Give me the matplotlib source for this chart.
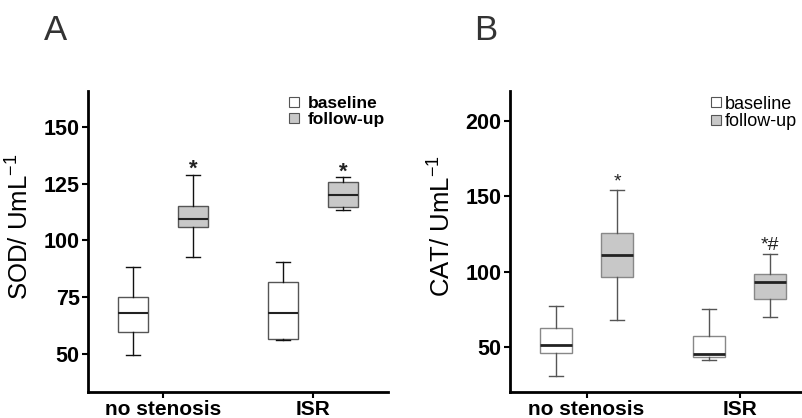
import numpy as np
import matplotlib
matplotlib.use('Agg')
import matplotlib.pyplot as plt
from matplotlib.lines import Line2D

plt.rcParams['font.family'] = ['Liberation Sans', 'DejaVu Sans']

groups = ['no stenosis', 'ISR']
series = ['baseline', 'follow-up']

# box summaries: [no stenosis, ISR] -> (whislo, q1, med, q3, whishi)
sod_baseline = [(49.2, 59.6, 67.7, 74.8, 88.4), (56.0, 56.2, 67.7, 81.4, 90.3)]
sod_followup = [(92.5, 105.8, 109.5, 115.3, 128.9), (113.4, 114.8, 120.2, 125.9, 127.8)]
sod_marks = ['*', '*']

cat_baseline = [(30.9, 46.0, 51.5, 62.6, 77.0), (41.1, 43.5, 45.5, 57.2, 75.2)]
cat_followup = [(68.1, 96.2, 111.3, 125.6, 154.0), (69.7, 81.8, 92.9, 98.7, 111.5)]
cat_marks = ['*', '*#']


def to_stats(rows):
    out = []
    for lo, q1, med, q3, hi in rows:
        out.append(dict(whislo=lo, q1=q1, med=med, q3=q3, whishi=hi, fliers=[]))
    return out


def panel(ax, base, follow, marks, ylabel, ylim, yticks, xlim, bold, style):
    pos = np.arange(1, len(groups) + 1)
    w = style['width']
    for stats, off, face in [(base, -0.2, 'white'), (follow, 0.2, '#c8c8c8')]:
        ax.bxp(to_stats(stats), positions=pos + off, widths=w, capwidths=0.09,
               patch_artist=True, showfliers=False, manage_ticks=False,
               boxprops=dict(facecolor=face, edgecolor=style['edge'], linewidth=1.0),
               whiskerprops=dict(color=style['whisk'], linewidth=1.0),
               capprops=dict(color=style['whisk'], linewidth=1.0),
               medianprops=dict(color='#222222', linewidth=style['medlw']))
    # significance marks above the follow-up whiskers
    for i, m in enumerate(marks):
        ax.annotate(m, (pos[i] + 0.2, follow[i][4]), xytext=(0, style['staroff']),
                    textcoords='offset points', ha='center', va='center',
                    fontsize=style['starsize'], fontweight='bold' if bold else 'normal',
                    color='#222222')
    ax.set_xlim(*xlim)
    ax.set_ylim(*ylim)
    ax.set_yticks(yticks)
    ax.set_xticks(pos)
    ax.set_xticklabels(groups)
    for s in ['top', 'right']:
        ax.spines[s].set_visible(False)
    for s in ['left', 'bottom']:
        ax.spines[s].set_linewidth(2.0)
    ax.tick_params(width=1.5, length=4, pad=2, labelsize=15.5)
    for lab in ax.get_xticklabels():
        lab.set_fontsize(15)
        lab.set_fontweight('bold')
    for lab in ax.get_yticklabels():
        lab.set_fontweight('bold')
    ax.set_ylabel(ylabel, fontsize=18.5)
    ax.yaxis.set_label_coords(style['ylx'], 0.55)

    handles = [Line2D([], [], ls='none', marker='s', markersize=7, markerfacecolor=f,
                      markeredgecolor='#555555', markeredgewidth=0.8)
               for f in ['white', '#c8c8c8']]
    ax.legend(handles, series, loc='upper right', bbox_to_anchor=style['legpos'],
              frameon=False, handlelength=0.7, handletextpad=style['legpad'],
              labelspacing=0.05, borderpad=0, borderaxespad=0,
              prop=dict(size=style['legsize'], weight='bold' if bold else 'normal'))


fig = plt.figure(figsize=(8.03, 4.18), dpi=100)
axA = fig.add_axes([88 / 803, 26 / 418, 300 / 803, 301 / 418])
axB = fig.add_axes([510 / 803, 26 / 418, 294 / 803, 301 / 418])

panel(axA, sod_baseline, sod_followup, sod_marks, 'SOD/ UmL$^{\\mathregular{-1}}$',
      (33, 166), [50, 75, 100, 125, 150], (0.5, 2.5), True,
      dict(width=0.2, edge='#555555', whisk='#111111', medlw=1.5, starsize=16, staroff=4,
           ylx=-0.183, legpos=(0.99, 0.985), legpad=0.45, legsize=12.5))
panel(axB, cat_baseline, cat_followup, cat_marks, 'CAT/ UmL$^{\\mathregular{-1}}$',
      (20, 220), [50, 100, 150, 200], (0.5, 2.42), False,
      dict(width=0.21, edge='#888888', whisk='#555555', medlw=2.0, starsize=14, staroff=6,
           ylx=-0.187, legpos=(0.975, 0.985), legpad=0.1, legsize=13))

fig.text(55.5 / 803, 1 - 31 / 418, 'A', fontsize=25, color='#333333', ha='center', va='center')
fig.text(486 / 803, 1 - 31 / 418, 'B', fontsize=25, color='#333333', ha='center', va='center')

fig.savefig('out.png', dpi=100)
